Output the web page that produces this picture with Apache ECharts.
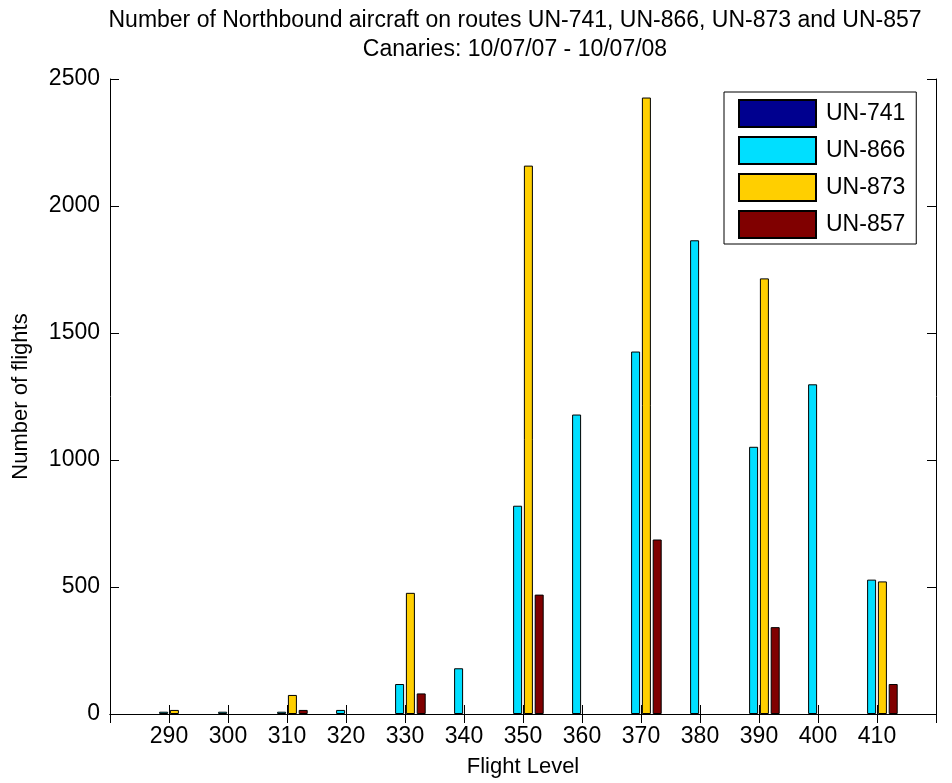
<!DOCTYPE html>
<html>
<head>
<meta charset="utf-8">
<script src="https://cdn.jsdelivr.net/npm/echarts@6/dist/echarts.min.js"></script>
<style>
  html, body { margin: 0; padding: 0; background: #fff; }
  #chart { width: 952px; height: 783px; }
</style>
</head>
<body>
<div id="chart"></div>
<script>
// flight levels (the two end slots are empty, like the matlab axis 280..420)
var levels = ['280', '290', '300', '310', '320', '330', '340', '350', '360', '370', '380', '390', '400', '410', '420'];
var routes = ['UN-741', 'UN-866', 'UN-873', 'UN-857'];
var un741 = [0, 0, 0, 0, 0, 0, 0, 0, 0, 0, 0, 0, 0, 0, 0];
var un866 = [0, 9, 9, 9, 16, 118, 180, 820, 1179, 1427, 1865, 1052, 1298, 529, 0];
var un873 = [0, 16, 0, 75, 0, 477, 0, 2159, 0, 2427, 0, 1715, 0, 522, 0];
var un857 = [0, 0, 0, 16, 0, 81, 0, 470, 0, 687, 0, 342, 0, 118, 0];
var yTicks = [0, 500, 1000, 1500, 2000, 2500];
var colors = ['#00008f', '#00dfff', '#ffcf00', '#800000'];

var font = 'Liberation Sans, Arial, Helvetica, sans-serif';
var chart = echarts.init(document.getElementById('chart'));

// zero bars are not drawn in the original (matlab leaves them flat)
function barSeries(i, data) {
  return {
    name: routes[i],
    type: 'bar',
    data: data.map(function (v) { return v === 0 ? null : v; }),
    barWidth: 9,
    barGap: '20%',
    itemStyle: { color: colors[i], borderColor: '#000', borderWidth: 1 },
    emphasis: { disabled: true }
  };
}

var option = {
  animation: false,
  backgroundColor: '#fff',
  textStyle: { fontFamily: font, color: '#000' },
  title: {
    text: 'Number of Northbound aircraft on routes UN-741, UN-866, UN-873 and UN-857\nCanaries: 10/07/07 - 10/07/08',
    left: 510,
    top: 1,
    textAlign: 'center',
    textStyle: { fontFamily: font, fontSize: 23, fontWeight: 'normal', color: '#000', lineHeight: 29 }
  },
  legend: {
    data: routes,
    orient: 'vertical',
    left: 724,
    top: 92,
    icon: 'rect',
    itemWidth: 77,
    itemHeight: 27,
    itemGap: 8,
    padding: [7, 11, 5, 14],
    borderColor: '#000',
    borderWidth: 1,
    borderRadius: 0,
    backgroundColor: '#fff',
    textStyle: { fontFamily: font, fontSize: 23, color: '#000', padding: [0, 0, 0, 5] }
  },
  grid: { left: 110, right: 16, top: 79, bottom: 68 },
  xAxis: [{
    type: 'category',
    data: levels,
    boundaryGap: false,
    name: 'Flight Level',
    nameLocation: 'middle',
    nameGap: 42,
    nameTextStyle: { fontFamily: font, fontSize: 22, color: '#000' },
    axisLine: { lineStyle: { color: '#000', width: 1 } },
    axisTick: { inside: true, length: 9, lineStyle: { color: '#000' } },
    axisLabel: {
      interval: 0, margin: 11, fontFamily: font, fontSize: 23, color: '#000',
      formatter: function (v, i) { return (i === 0 || i === levels.length - 1) ? '' : v; }
    },
    splitLine: { show: false }
  }, {
    type: 'category',
    data: levels,
    boundaryGap: false,
    position: 'top',
    axisLine: { lineStyle: { color: '#000', width: 1 } },
    axisTick: { inside: true, length: 9, interval: 0, lineStyle: { color: '#000' } },
    axisLabel: { show: false },
    splitLine: { show: false }
  }],
  yAxis: [{
    type: 'value',
    min: yTicks[0],
    max: yTicks[yTicks.length - 1],
    interval: 500,
    name: 'Number of flights',
    nameLocation: 'middle',
    nameGap: 78,
    nameTextStyle: { fontFamily: font, fontSize: 22, color: '#000' },
    axisLine: { show: true, lineStyle: { color: '#000', width: 1 } },
    axisTick: { show: true, inside: true, length: 9, lineStyle: { color: '#000' } },
    axisLabel: { margin: 10, fontFamily: font, fontSize: 23, color: '#000', formatter: function (v) { return String(v); } },
    splitLine: { show: false }
  }, {
    type: 'value',
    position: 'right',
    min: yTicks[0],
    max: yTicks[yTicks.length - 1],
    interval: 500,
    axisLine: { show: true, lineStyle: { color: '#000', width: 1 } },
    axisTick: { show: true, inside: true, length: 9, lineStyle: { color: '#000' } },
    axisLabel: { show: false },
    splitLine: { show: false }
  }],
  series: [
    barSeries(0, un741),
    barSeries(1, un866),
    barSeries(2, un873),
    barSeries(3, un857)
  ]
};

chart.setOption(option);
</script>
</body>
</html>
